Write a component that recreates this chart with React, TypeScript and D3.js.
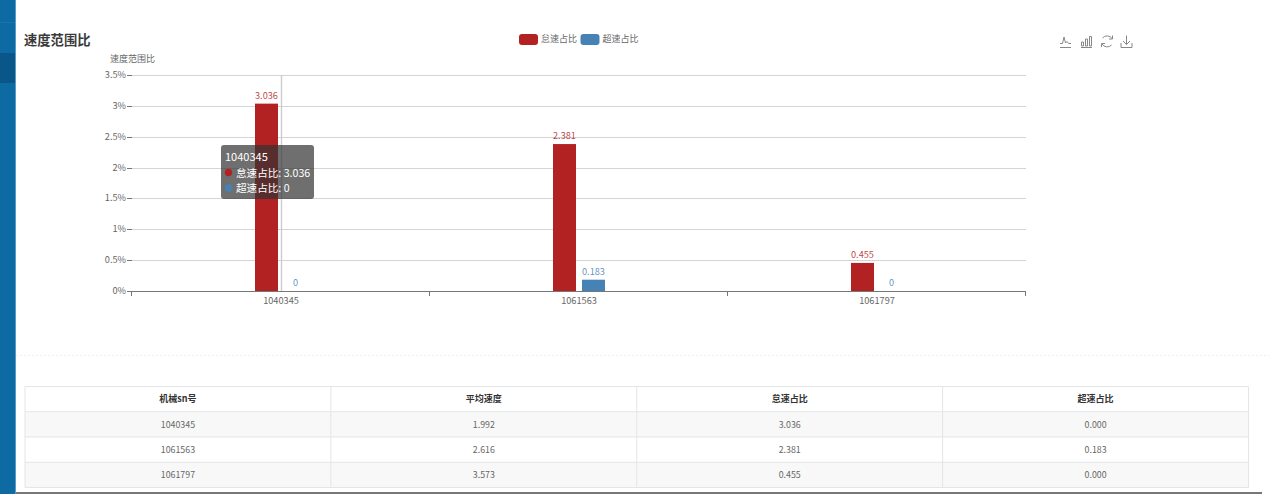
import React from 'react';
import * as d3 from 'd3';

const machines = ['1040345', '1061563', '1061797'];
const idleShare = [3.036, 2.381, 0.455];
const overShare = [0, 0.183, 0];
const yTicks = [0, 0.5, 1, 1.5, 2, 2.5, 3, 3.5];
const seriesNames = ['怠速占比', '超速占比'];
const seriesColors = ['#b22222', '#4682b4'];

const tableHead = ['机械sn号', '平均速度', '怠速占比', '超速占比'];
const avgSpeed = ['1.992', '2.616', '3.573'];
const idleText = ['3.036', '2.381', '0.455'];
const overText = ['0.000', '0.183', '0.000'];

const FONT = '"Noto Sans CJK SC", "Open Sans", sans-serif';
const WIDTH = 1269;
const HEIGHT = 494;

export default function App() {
  const x0 = d3.scaleBand<string>().domain(machines).range([132, 1026]);
  const x1 = d3.scaleBand<string>().domain(seriesNames).range([0, 52]).paddingInner(0.207);
  const y = d3.scaleLinear().domain([0, 3.5]).range([291, 75]);

  const series = [idleShare, overShare];

  // table geometry
  const colX = d3.scaleLinear().domain([0, 4]).range([25, 1248.5]);
  const rowY = d3.scaleLinear().domain([0, 4]).range([386.5, 487.5]);
  const rows = machines.map((m, i) => [m, avgSpeed[i], idleText[i], overText[i]]);

  const hoverX = x0('1040345')! + x0.bandwidth() / 2;

  return (
    <svg
      width={WIDTH}
      height={HEIGHT}
      viewBox={`0 0 ${WIDTH} ${HEIGHT}`}
      style={{ position: 'absolute', left: 0, top: 0, display: 'block', fontFamily: FONT }}
    >
      <rect width={WIDTH} height={HEIGHT} fill="#fff" />

      {/* sidebar */}
      <rect x={0} y={0} width={15} height={HEIGHT} fill="#0e6aa2" />
      <rect x={15} y={0} width={1} height={HEIGHT} fill="#5b9cc6" />
      <rect x={0} y={53} width={15} height={30} fill="#0a5689" />
      <rect x={0} y={22} width={15} height={1} fill="#1a74aa" />
      <rect x={16} y={492} width={1246} height={2} fill="#777" />

      <text x={24} y={45} fontSize={13.3} fontWeight={700} fill="#3a3a3a">速度范围比</text>

      {/* legend */}
      {seriesNames.map((name, i) => {
        const lx = 519 + i * 61.5;
        return (
          <g key={name}>
            <rect x={lx} y={34} width={19} height={11} rx={3} fill={seriesColors[i]} />
            <text x={lx + 22} y={42} fontSize={9} fill="#666">{name}</text>
          </g>
        );
      })}

      {/* toolbox */}
      <g fill="none" stroke="#888" strokeWidth={1} transform="translate(1060,35)">
        <path d="M0 12.5H11M0 8.5H2.5L4 2L5.5 8L7 6.5L8.5 8.5H11" />
        <g transform="translate(21,0)">
          <path d="M0 12.5H11M0.5 11V7H2.5V11ZM4.5 11V4H6.5V11ZM8.5 11V1.5H10.5V11Z" />
        </g>
        <g transform="translate(41,0)">
          <path d="M11 3.5A6 6 0 0 0 1.5 3M1 9A6 6 0 0 0 10.5 10" />
          <path d="M11.5 0.5V4H8M0.5 12V8.5H4" />
        </g>
        <g transform="translate(61,0)">
          <path d="M0 8V12.5H11V8M5.5 0.5V9.5M2 6L5.5 9.5L9 6" />
        </g>
      </g>

      {/* y axis */}
      <text x={110} y={62} fontSize={9} fill="#666">速度范围比</text>
      {yTicks.map((t) => (
        <g key={t} transform={`translate(0,${Math.round(y(t)) + 0.5})`}>
          {t > 0 && <line x1={132} x2={1026} stroke="#d4d4d4" />}
          <line x1={127} x2={132} stroke="#777" />
          <text x={126} y={2.5} textAnchor="end" fontSize={9.2} fill="#666">{`${t}%`}</text>
        </g>
      ))}

      {/* hover crosshair */}
      <line x1={hoverX + 0.5} x2={hoverX + 0.5} y1={75} y2={291} stroke="#ccc" strokeWidth={1.4} />

      {/* bars */}
      {machines.map((m, i) => (
        <g key={m} transform={`translate(${x0(m)! + x0.bandwidth() / 2 - 26},0)`}>
          {seriesNames.map((name, s) => {
            const v = series[s][i];
            const bx = x1(name)!;
            const by = y(v);
            return (
              <g key={name}>
                <rect x={bx} y={by} width={x1.bandwidth()} height={291 - by} fill={seriesColors[s]} />
                <text
                  x={bx + x1.bandwidth() / 2}
                  y={by - 5}
                  textAnchor="middle"
                  fontSize={9.2}
                  fill={seriesColors[s]}
                  fillOpacity={0.85}
                >
                  {v}
                </text>
              </g>
            );
          })}
        </g>
      ))}

      {/* x axis */}
      <line x1={132} x2={1026} y1={291.5} y2={291.5} stroke="#777" />
      {[0, 1, 2, 3].map((k) => {
        const tx = Math.round(132 + k * x0.bandwidth()) - 0.5;
        return <line key={k} x1={tx} x2={tx} y1={291} y2={296} stroke="#777" />;
      })}
      {machines.map((m) => (
        <text key={m} x={x0(m)! + x0.bandwidth() / 2} y={303.5} textAnchor="middle" fontSize={9.2} fill="#666">
          {m}
        </text>
      ))}

      {/* tooltip */}
      <g>
        <rect x={221} y={145} width={93} height={54} rx={3} fill="#323232" fillOpacity={0.7} />
        <text x={225} y={161} fontSize={11} fill="#fff">{machines[0]}</text>
        {seriesNames.map((name, s) => (
          <g key={name}>
            <circle cx={228.5} cy={172.5 + s * 15.5} r={3.7} fill={seriesColors[s]} />
            <text x={236} y={176.5 + s * 15.5} fontSize={10.6} fill="#fff">
              {`${name}: ${series[s][0]}`}
            </text>
          </g>
        ))}
      </g>

      {/* divider */}
      <line x1={16} x2={WIDTH} y1={355.5} y2={355.5} stroke="#eee" strokeDasharray="2 2" />

      {/* table */}
      {rows.map((_, r) => (
        <rect
          key={r}
          x={colX(0)}
          y={rowY(r + 1)}
          width={colX(4) - colX(0)}
          height={rowY(r + 2) - rowY(r + 1)}
          fill={r % 2 === 0 ? '#f8f8f8' : '#fff'}
        />
      ))}
      {d3.range(5).map((r) => (
        <line key={r} x1={colX(0)} x2={colX(4)} y1={rowY(r)} y2={rowY(r)} stroke="#e4e5e7" />
      ))}
      {d3.range(5).map((c) => (
        <line key={c} x1={colX(c)} x2={colX(c)} y1={rowY(0)} y2={rowY(4)} stroke="#e4e5e7" />
      ))}
      {tableHead.map((h, c) => (
        <text
          key={h + c}
          x={(colX(c) + colX(c + 1)) / 2}
          y={402}
          textAnchor="middle"
          fontSize={9}
          fontWeight={700}
          fill="#333"
        >
          {h}
        </text>
      ))}
      {rows.map((row, r) =>
        row.map((cell, c) => (
          <text
            key={`${r}-${c}`}
            x={(colX(c) + colX(c + 1)) / 2}
            y={428 + r * 25.2}
            textAnchor="middle"
            fontSize={8.8}
            fill="#666"
          >
            {cell}
          </text>
        ))
      )}
    </svg>
  );
}
